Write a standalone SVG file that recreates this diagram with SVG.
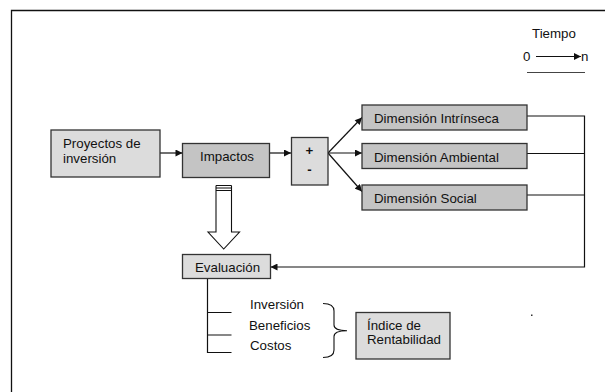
<svg xmlns="http://www.w3.org/2000/svg" width="605" height="392" viewBox="0 0 605 392">
<defs>
<style>
text{font-family:"Liberation Sans",Arial,sans-serif;font-size:13.3px;fill:#111}
.box{stroke:#333;stroke-width:1.3}
.light{fill:#dcdcdc}
.dark{fill:#c4c4c4}
.ln{stroke:#111;stroke-width:1.2;fill:none}
</style>
<marker id="ah" viewBox="0 0 10 10" refX="10" refY="5" markerWidth="8" markerHeight="7" markerUnits="userSpaceOnUse" orient="auto">
<path d="M0,0 L10,5 L0,10 z" fill="#111"/>
</marker>
</defs>
<rect width="605" height="392" fill="#fff"/>
<path d="M11.5,392 V10.5 H605" fill="none" stroke="#111" stroke-width="1.3"/>
<g id="tiempo">
<text x="532" y="38">Tiempo</text>
<text x="523" y="61">0</text>
<line x1="536" y1="56.5" x2="581" y2="56.5" class="ln" marker-end="url(#ah)"/>
<text x="581" y="61">n</text>
<line x1="527" y1="72.5" x2="585" y2="72.5" stroke="#444" stroke-width="1.2"/>
</g>
<g id="connectors">
<line x1="160" y1="153" x2="182.5" y2="153" class="ln" marker-end="url(#ah)"/>
<line x1="269.5" y1="153" x2="291" y2="153" class="ln" marker-end="url(#ah)"/>
<line x1="328" y1="153" x2="362" y2="117.5" class="ln" marker-end="url(#ah)"/>
<line x1="328" y1="153" x2="362" y2="153" class="ln" marker-end="url(#ah)"/>
<line x1="328" y1="153" x2="362" y2="191.5" class="ln" marker-end="url(#ah)"/>
<path d="M527,116 H584.5 V267 H270.5" class="ln" marker-end="url(#ah)"/>
<line x1="527" y1="153.5" x2="584.5" y2="153.5" class="ln"/>
<line x1="527" y1="195" x2="584.5" y2="195" class="ln"/>
<path d="M216,185.5 H231.5 M216,188 H231.5 M216,190.5 H231.5 M216,185.5 V232 H208 L223.7,249 L239.5,232 H231.5 V185.5" fill="#fff" stroke="#111" stroke-width="1.1"/>
<path d="M207.5,278.5 V352.5 H231.5 M207.5,312.5 H231.5 M207.5,335 H231.5" class="ln"/>
<path d="M323,303.5 C330,303.5 334,306 334,311 V325 C334,329 338,330.7 347,330.7 C338,330.7 334,332.5 334,336.5 V350 C334,355 330,357.5 323,357.5" fill="none" stroke="#111" stroke-width="1.1"/>
</g>
<g id="proyectos">
<rect x="51" y="130" width="109" height="47" class="box light"/>
<text x="63" y="148">Proyectos de</text>
<text x="63" y="163">inversión</text>
</g>
<g id="impactos">
<rect x="182.5" y="143.5" width="87" height="34" class="box dark"/>
<text x="227" y="160.5" text-anchor="middle">Impactos</text>
</g>
<g id="signo">
<rect x="291.5" y="137.5" width="36.5" height="47.5" class="box light"/>
<text x="309.5" y="155" text-anchor="middle" font-weight="bold">+</text>
<text x="309.5" y="174" text-anchor="middle" font-weight="bold">-</text>
</g>
<g id="dim-intrinseca">
<rect x="362" y="105" width="165" height="25" class="box dark"/>
<text x="374" y="123">Dimensión Intrínseca</text>
</g>
<g id="dim-ambiental">
<rect x="362" y="143.5" width="165" height="25" class="box dark"/>
<text x="374" y="161.5">Dimensión Ambiental</text>
</g>
<g id="dim-social">
<rect x="362" y="185" width="165" height="25" class="box dark"/>
<text x="374" y="203">Dimensión Social</text>
</g>
<g id="evaluacion">
<rect x="182.5" y="254.5" width="88" height="24" class="box light"/>
<text x="195" y="271.5">Evaluación</text>
</g>
<g id="items">
<text x="250" y="309">Inversión</text>
<text x="249" y="330">Beneficios</text>
<text x="250" y="349.5">Costos</text>
</g>
<g id="indice">
<rect x="356" y="312.5" width="94" height="46.5" class="box light"/>
<text x="367" y="330">Índice de</text>
<text x="367" y="344">Rentabilidad</text>
</g>
<rect x="531" y="314.5" width="1.5" height="1.5" fill="#333"/>
</svg>
